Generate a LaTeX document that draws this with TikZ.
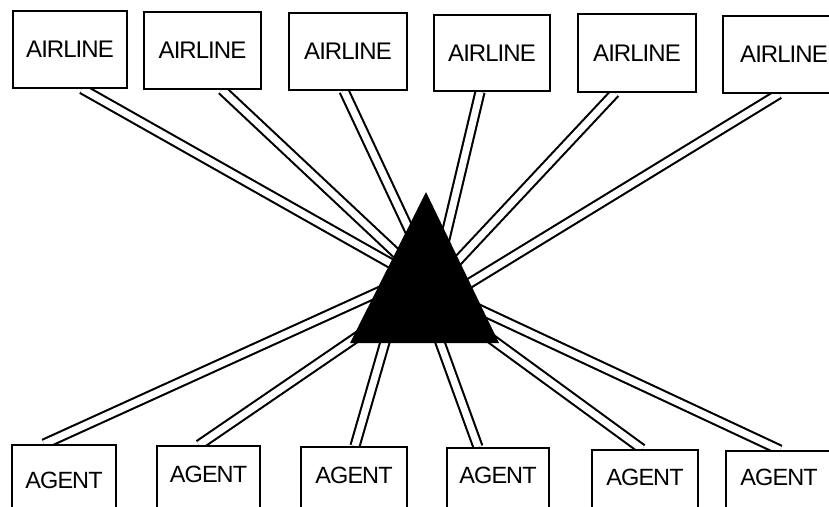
\documentclass[tikz,border=0pt]{standalone}
\usepackage{fontspec}
\setmainfont{Liberation Sans}[LetterSpace=-4]
\usetikzlibrary{backgrounds}
\pgfdeclarelayer{background}
\pgfsetlayers{background,main}
\begin{document}
\begin{tikzpicture}[x=1pt,y=-1pt,
  boxair/.style={draw, line width=1.7pt, fill=white, inner sep=0pt, minimum height=77pt,
    font=\fontsize{24}{28}\selectfont},
  boxagent/.style={draw, line width=1.7pt, fill=white, inner sep=0pt, anchor=north,
    text height=36pt, text depth=60pt, font=\fontsize{23.5}{28}\selectfont},
  conn/.style={double=white, double distance=7pt, line width=2.1pt, draw=black}]
\useasboundingbox (0,0) rectangle (829,506);
\clip (0,0) rectangle (829,506);
% airline boxes
\node[boxair, minimum width=114pt] (b1) at (70,49.5) {AIRLINE};
\node[boxair, minimum width=117pt] (b2) at (202.5,50.5) {AIRLINE};
\node[boxair, minimum width=118pt] (b3) at (348,51.5) {AIRLINE};
\node[boxair, minimum width=116pt, minimum height=76pt] (b4) at (492,53) {AIRLINE};
\node[boxair, minimum width=118pt, minimum height=78pt] (b5) at (637,53) {AIRLINE};
\node[boxair, minimum width=122pt] (b6) at (784,54.5) {AIRLINE};
% agent boxes
\node[boxagent, minimum width=104pt, text height=44pt] (g1) at (64,444) {AGENT};
\node[boxagent, minimum width=103pt, text height=37pt] (g2) at (208.5,445) {AGENT};
\node[boxagent, minimum width=106pt, text height=37pt] (g3) at (354,446) {AGENT};
\node[boxagent, minimum width=102pt] (g4) at (498,447) {AGENT};
\node[boxagent, minimum width=106pt] (g5) at (645,449) {AGENT};
\node[boxagent, minimum width=106pt, text height=35pt] (g6) at (779,450) {AGENT};
% hub
\coordinate (apex) at (426,192);
\coordinate (bl) at (350,343);
\coordinate (br) at (499,343);
\coordinate (t1) at (429,285);
\coordinate (t2) at (430,285);
\coordinate (t3) at (435,285);
\coordinate (t4) at (434,285);
\coordinate (t5) at (435,285);
\coordinate (t6) at (442,300);
\coordinate (u1) at (416,275);
\coordinate (u2) at (411,300);
\coordinate (u3) at (400,290);
\coordinate (u4) at (421,290);
\coordinate (u5) at (438,300);
\coordinate (u6) at (459,300);
\begin{pgfonlayer}{background}
\draw[conn] ([xshift=12pt]b1.south) -- (t1);
\draw[conn] ([xshift=19.5pt]b2.south) -- (t2);
\draw[conn] ([xshift=-4pt]b3.south) -- (t3);
\draw[conn] ([xshift=-12pt]b4.south) -- (t4);
\draw[conn] ([xshift=-22pt]b5.south) -- (t5);
\draw[conn] ([xshift=-5pt]b6.south) -- (t6);
\draw[conn] ([xshift=-20pt]g1.north) -- (u1);
\draw[conn] ([xshift=-9.5pt]g2.north) -- (u2);
\draw[conn] ([xshift=1pt]g3.north) -- (u3);
\draw[conn] ([xshift=-20pt]g4.north) -- (u4);
\draw[conn] ([xshift=-3pt]g5.north) -- (u5);
\draw[conn] ([xshift=1pt]g6.north) -- (u6);
\end{pgfonlayer}
\fill[black] (apex) -- (br) -- (bl) -- cycle;
\end{tikzpicture}
\end{document}
